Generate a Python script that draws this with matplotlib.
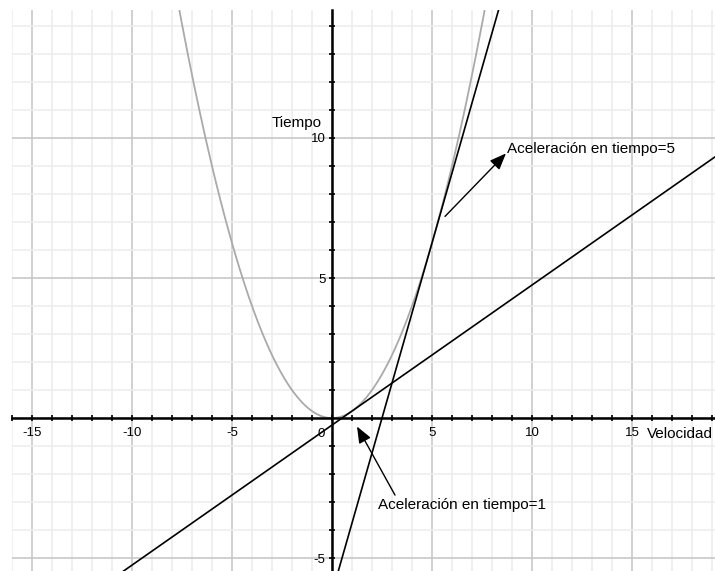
import matplotlib.pyplot as plt
import numpy as np
from matplotlib.ticker import MultipleLocator, FuncFormatter

plt.rcParams["font.family"] = ["Liberation Sans", "DejaVu Sans"]

# Position curve y = k * x^2 and its tangents (acceleration) at two times
k = 0.25
tangent_times = [1, 5]
x_lim = (-16.0, 19.15)
y_lim = (-5.46, 14.57)

# Annotations: (text, arrow tip, arrow tail, text position)
notes = [
    ("Aceleración en tiempo=5", (8.7, 9.45), (5.65, 7.2), (8.75, 9.6)),
    ("Aceleración en tiempo=1", (1.25, -0.3), (3.15, -2.75), (2.3, -3.1)),
]

fig = plt.figure(figsize=(7.15, 5.71), dpi=100)
ax = fig.add_axes([12 / 715, 0, 703 / 715, 561 / 571])
ax.set_xlim(*x_lim)
ax.set_ylim(*y_lim)

# grid: light every unit, darker every 5
for v in range(-16, 20):
    c = "#c4c4c4" if v % 5 == 0 else "#ececec"
    ax.axvline(v, color=c, lw=1.1, zorder=0)
for v in range(-5, 15):
    c = "#c4c4c4" if v % 5 == 0 else "#ececec"
    ax.axhline(v, color=c, lw=1.1, zorder=0)

xs = np.linspace(x_lim[0], x_lim[1], 600)
ax.plot(xs, k * xs ** 2, color="#aaaaaa", lw=1.3, zorder=2)
for t in tangent_times:
    slope = 2 * k * t
    ax.plot(xs, slope * (xs - t) + k * t ** 2, color="black", lw=1.2, zorder=3)

# axes through the origin
for side in ["top", "right"]:
    ax.spines[side].set_visible(False)
ax.spines["left"].set_position(("data", 0))
ax.spines["bottom"].set_position(("data", 0))
ax.spines["left"].set_linewidth(1.8)
ax.spines["bottom"].set_linewidth(1.8)
ax.xaxis.set_major_locator(MultipleLocator(1))
ax.yaxis.set_major_locator(MultipleLocator(1))
fmt = FuncFormatter(lambda v, p: "%d" % v if (round(v) % 5 == 0 and round(v) != 0) else "")
ax.xaxis.set_major_formatter(fmt)
ax.yaxis.set_major_formatter(fmt)
ax.tick_params(direction="inout", length=5, width=1.2, labelsize=9.5)
ax.tick_params(axis="x", pad=4)
ax.tick_params(axis="y", pad=2)

ax.text(-0.35, -0.57, "0", fontsize=9.5, ha="right", va="center")
ax.text(15.75, -0.57, "Velocidad", fontsize=11, ha="left", va="center")
ax.text(-0.5, 10.55, "Tiempo", fontsize=11, ha="right", va="center")

for label, tip, tail, pos in notes:
    ax.annotate("", xy=tip, xytext=tail,
                arrowprops=dict(arrowstyle="-|>,head_length=1.0,head_width=0.4",
                                color="black", lw=1.0, shrinkA=0, shrinkB=0))
    ax.text(pos[0], pos[1], label, fontsize=11, ha="left", va="center")

plt.savefig("out.png", dpi=100)
